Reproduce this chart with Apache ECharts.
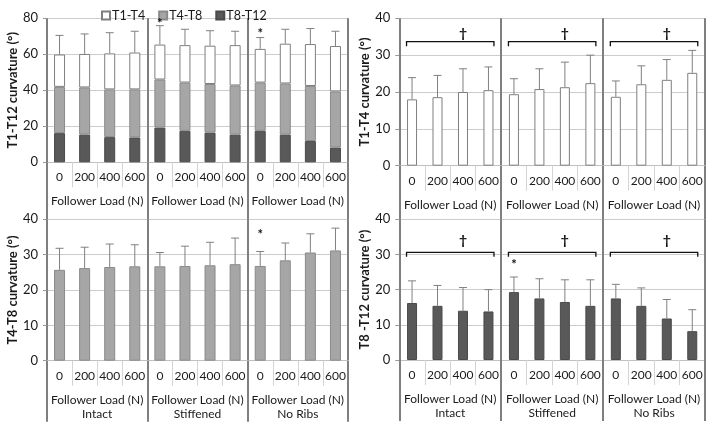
<!DOCTYPE html>
<html><head><meta charset="utf-8">
<script src="https://cdn.jsdelivr.net/npm/echarts@6/dist/echarts.min.js"></script>
<style>html,body{margin:0;padding:0;background:#fff}#c{width:714px;height:430px}</style>
</head><body><div id="c"></div>
<script>
// ---- data ----
const loads = ['0', '200', '400', '600'];
const groups = ['Intact', 'Stiffened', 'No Ribs'];
const t1t4 = [18.0, 18.6, 20.0, 20.5, 19.4, 20.8, 21.3, 22.4, 18.7, 22.1, 23.3, 25.2];
const t1t4Err = [5.9, 5.9, 6.3, 6.3, 4.2, 5.5, 6.8, 7.6, 4.3, 5.0, 5.5, 6.1];
const t4t8 = [25.7, 26.2, 26.5, 26.7, 26.7, 26.8, 27.0, 27.3, 26.8, 28.4, 30.6, 31.2];
const t4t8Err = [6.1, 5.9, 6.5, 6.1, 3.9, 5.6, 6.5, 7.4, 4.1, 4.9, 5.3, 6.3];
const t8t12 = [16.2, 15.4, 14.0, 13.8, 19.3, 17.5, 16.5, 15.4, 17.5, 15.4, 11.8, 8.2];
const t8t12Err = [6.3, 5.8, 6.6, 6.2, 4.3, 5.6, 6.3, 7.4, 4.0, 5.1, 5.4, 6.1];
const totalErr = [10.6, 11.1, 11.5, 11.8, 10.5, 8.8, 8.3, 7.7, 6.3, 8.0, 8.6, 8.2];
const yTicksTotal = [0, 80, 20];
const yTicksPart = [0, 40, 10];
// annotations: [category index, value]
const starsTotal = [[4, 77.2], [8, 71.2]];
const starsT4T8 = [[8, 35.5]];
const starsT8T12 = [[4, 27.0]];
// brackets: [first index, last index, value]
const bracketsT1T4 = [[0, 3, 33.65], [4, 7, 33.65], [8, 11, 33.65]];
const daggersT1T4 = [[1.55, 36.0], [5.55, 36.0], [9.55, 36.0]];
const bracketsT8T12 = [[0, 3, 30.6], [4, 7, 30.6], [8, 11, 30.6]];
const daggersT8T12 = [[1.55, 34.1], [5.55, 34.1], [9.55, 34.1]];

const total = t1t4.map((v, i) => t1t4[i] + t4t8[i] + t8t12[i]);
const catLabels = [].concat(loads, loads, loads);

// ---- styles ----
const FONT = 'Lato';
const DARK = '#7f7f7f';
const cWhite = {color: '#ffffff', borderColor: '#7f7f7f', borderWidth: 1};
const cGray = {color: '#a6a6a6', borderColor: '#8a8a8a', borderWidth: 1};
const cDark = {color: '#595959', borderColor: '#4a4a4a', borderWidth: 1};
const BW = 11;

const grids = [
  {left: 47, top: 18.3, width: 301, height: 144},
  {left: 399.3, top: 18.3, width: 305.7, height: 147.4},
  {left: 47, top: 219.3, width: 301, height: 141.4},
  {left: 399.3, top: 219.3, width: 305.7, height: 140.7}
];
const sepLen = [57, 53.5, 61, 61];
const yNames = ['T1-T12 curvature (°)', 'T1-T4 curvature (°)', 'T4-T8 curvature (°)', 'T8 -T12 curvature (°)'];

const xAxes = [], yAxes = [];
grids.forEach((g, k) => {
  const bottomRow = k >= 2;
  xAxes.push({
    type: 'category', gridIndex: k, data: catLabels, boundaryGap: true, position: 'bottom',
    axisLine: {show: true, lineStyle: {color: '#c0c0c0', width: 1}},
    axisTick: {show: true, length: 25, lineStyle: {color: '#d4d4d4'}},
    axisLabel: {interval: 0, margin: 9, color: '#1a1a1a', fontSize: 12, fontFamily: FONT},
    splitLine: {show: false}
  });
  xAxes.push({
    type: 'category', gridIndex: k, position: 'bottom', offset: 0,
    data: groups.map(gn => bottomRow ? 'Follower Load (N)\n' + gn : 'Follower Load (N)'),
    boundaryGap: true,
    axisLine: {show: false},
    axisTick: {show: true, length: sepLen[k], lineStyle: {color: DARK, width: 2}},
    axisLabel: {interval: 0, margin: 32, color: '#1a1a1a', fontSize: 12, fontFamily: FONT, lineHeight: 14},
    splitLine: {show: true, lineStyle: {color: DARK, width: 2}}
  });
  const t = k === 0 ? yTicksTotal : yTicksPart;
  yAxes.push({
    type: 'value', gridIndex: k, min: t[0], max: t[1], interval: t[2],
    name: yNames[k], nameLocation: 'middle', nameGap: 27,
    nameTextStyle: {fontSize: 13, fontWeight: 'bold', color: '#1a1a1a', fontFamily: FONT},
    axisLine: {show: false},
    axisTick: {show: true, length: 4, lineStyle: {color: '#999'}},
    axisLabel: {margin: 9, fontSize: 13, color: '#1a1a1a', fontFamily: FONT},
    splitLine: {show: true, lineStyle: {color: '#cccccc', width: 1}}
  });
});

function errSeries(k, means, errs) {
  return {
    type: 'custom', xAxisIndex: 2 * k, yAxisIndex: k, z: 5, silent: true,
    data: means.map((m, i) => [i, m, errs[i]]),
    renderItem: function (params, api) {
      const i = api.value(0), m = api.value(1), e = api.value(2);
      const base = api.coord([i, m]);
      const top = api.coord([i, m + e]);
      const st = {stroke: '#808080', lineWidth: 1, fill: null};
      return {type: 'group', children: [
        {type: 'line', shape: {x1: base[0], y1: base[1], x2: top[0], y2: top[1]}, style: st},
        {type: 'line', shape: {x1: top[0] - 4, y1: top[1], x2: top[0] + 4, y2: top[1]}, style: st}
      ]};
    }
  };
}
function textSeries(k, pts, mark, size) {
  return {
    type: 'custom', xAxisIndex: 2 * k, yAxisIndex: k, z: 6, silent: true,
    data: pts,
    renderItem: function (params, api) {
      const p = api.coord([api.value(0), api.value(1)]);
      return {type: 'text', style: {text: mark, x: p[0], y: p[1], align: 'center', verticalAlign: 'middle',
        fontSize: size, fontFamily: FONT, fontWeight: 'bold', fill: '#111'}};
    }
  };
}
function bracketSeries(k, pts) {
  return {
    type: 'custom', xAxisIndex: 2 * k, yAxisIndex: k, z: 6, silent: true,
    data: pts,
    renderItem: function (params, api) {
      const a = api.coord([api.value(0), api.value(2)]);
      const b = api.coord([api.value(1), api.value(2)]);
      const h = BW / 2;
      return {type: 'polyline', shape: {points: [[a[0] - h, a[1] + 4.5], [a[0] - h, a[1]], [b[0] + h, b[1]], [b[0] + h, b[1] + 4.5]]},
        style: {stroke: '#111', lineWidth: 1.3, fill: null}};
    }
  };
}

const series = [
  {type: 'bar', name: 'T8-T12', xAxisIndex: 0, yAxisIndex: 0, stack: 'tot', barWidth: BW, data: t8t12, itemStyle: cDark},
  {type: 'bar', name: 'T4-T8', xAxisIndex: 0, yAxisIndex: 0, stack: 'tot', barWidth: BW, data: t4t8, itemStyle: cGray},
  {type: 'bar', name: 'T1-T4', xAxisIndex: 0, yAxisIndex: 0, stack: 'tot', barWidth: BW, data: t1t4, itemStyle: cWhite},
  errSeries(0, total, totalErr),
  textSeries(0, starsTotal, '*', 13),
  {type: 'bar', name: 'T1-T4 ', xAxisIndex: 2, yAxisIndex: 1, barWidth: BW - 1, data: t1t4, itemStyle: cWhite},
  errSeries(1, t1t4, t1t4Err),
  bracketSeries(1, bracketsT1T4),
  textSeries(1, daggersT1T4, '†', 14),
  {type: 'bar', name: 'T4-T8 ', xAxisIndex: 4, yAxisIndex: 2, barWidth: BW, data: t4t8, itemStyle: cGray},
  errSeries(2, t4t8, t4t8Err),
  textSeries(2, starsT4T8, '*', 13),
  {type: 'bar', name: 'T8-T12 ', xAxisIndex: 6, yAxisIndex: 3, barWidth: BW - 1, data: t8t12, itemStyle: cDark},
  errSeries(3, t8t12, t8t12Err),
  bracketSeries(3, bracketsT8T12),
  textSeries(3, daggersT8T12, '†', 14),
  textSeries(3, starsT8T12, '*', 13)
];

const chart = echarts.init(document.getElementById('c'), null, {renderer: 'canvas'});
chart.setOption({
  animation: false,
  backgroundColor: '#ffffff',
  textStyle: {fontFamily: FONT},
  legend: {
    data: ['T1-T4', 'T4-T8', 'T8-T12'], left: 96, top: 4, itemWidth: 8, itemHeight: 8, itemGap: 13,
    icon: 'rect', textStyle: {fontSize: 12.5, color: '#1a1a1a', fontFamily: FONT, padding: [0, 0, 0, -3]}
  },
  grid: grids,
  xAxis: xAxes,
  yAxis: yAxes,
  series: series
});
</script></body></html>
